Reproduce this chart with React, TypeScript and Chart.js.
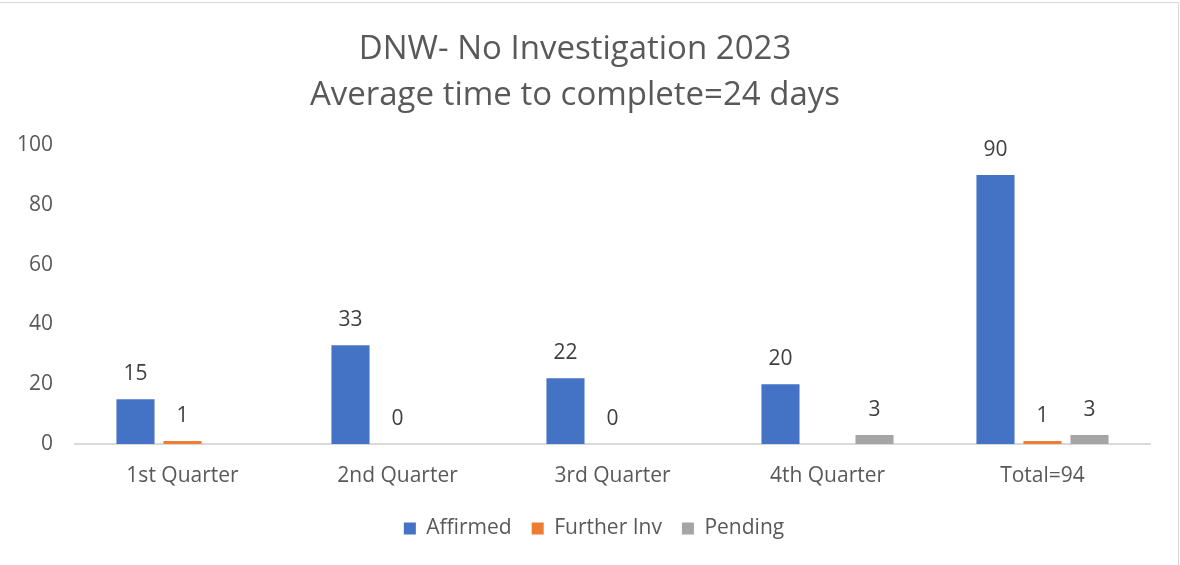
import React, { useEffect, useRef } from "react";
import { Chart, registerables } from "chart.js";

Chart.register(...registerables);

const categories = ["1st Quarter", "2nd Quarter", "3rd Quarter", "4th Quarter", "Total=94"];
const affirmed = [15, 33, 22, 20, 90];
const furtherInv = [1, 0, 0, null, 1];
const pending = [null, null, null, 3, 3];
const titleLines = ["DNW- No Investigation 2023", "Average time to complete=24 days"];

const FONT = "'Open Sans', 'Noto Sans', sans-serif";
const TEXT = "#595959";

const valueLabels = {
  id: "valueLabels",
  afterDatasetsDraw(chart: any) {
    const ctx = chart.ctx;
    ctx.save();
    ctx.font = `21px ${FONT}`;
    ctx.fillStyle = "#404040";
    ctx.textAlign = "center";
    ctx.textBaseline = "middle";
    chart.data.datasets.forEach((ds: any, i: number) => {
      const meta = chart.getDatasetMeta(i);
      meta.data.forEach((el: any, j: number) => {
        const v = ds.data[j];
        if (v === null || v === undefined) return;
        ctx.fillText(String(v), el.x, el.y - 25);
      });
    });
    ctx.restore();
  },
};

const legendShift = {
  id: "legendShift",
  afterLayout(chart: any) {
    if (chart.legend) {
      chart.legend.left += 19;
      chart.legend.right += 19;
    }
  },
};

export default function App() {
  const ref = useRef<HTMLCanvasElement>(null);
  useEffect(() => {
    if (!ref.current) return;
    const chart = new Chart(ref.current, {
      type: "bar",
      data: {
        labels: categories,
        datasets: [
          { label: "Affirmed", data: affirmed, backgroundColor: "#4472C4" },
          { label: "Further Inv", data: furtherInv, backgroundColor: "#ED7D31" },
          { label: "Pending", data: pending, backgroundColor: "#A5A5A5" },
        ],
      },
      options: {
        animation: false,
        responsive: false,
        maintainAspectRatio: false,
        layout: { padding: { left: 0, right: 30, top: 0, bottom: 16 } },
        datasets: {
          bar: { categoryPercentage: 0.656, barPercentage: 0.81, skipNull: false },
        },
        plugins: {
          title: {
            display: true,
            text: titleLines,
            color: TEXT,
            font: { family: FONT, size: 33, weight: "normal", lineHeight: 1.394 },
            padding: { top: 27, bottom: 26 },
          },
          legend: {
            position: "bottom",
            labels: {
              color: TEXT,
              font: { family: FONT, size: 21 },
              boxWidth: 12,
              boxHeight: 12,
              padding: 20,
            },
          },
          tooltip: { enabled: false },
        },
        scales: {
          x: {
            grid: { display: false, drawTicks: false },
            border: { display: true, color: "#D9D9D9", width: 2 },
            ticks: { color: TEXT, font: { family: FONT, size: 21 }, padding: 19 },
            afterFit(scale: any) {
              scale.height = 54;
            },
          },
          y: {
            min: 0,
            max: 100,
            grid: { display: false, drawTicks: false },
            border: { display: false },
            ticks: { stepSize: 20, color: TEXT, font: { family: FONT, size: 21 }, padding: 22 },
            afterFit(scale: any) {
              scale.width = 75;
            },
          },
        },
      },
      plugins: [valueLabels, legendShift],
    });
    return () => chart.destroy();
  }, []);
  return (
    <div style={{ position: "fixed", left: 0, top: 0, width: 1180, height: 565, background: "#fff" }}>
      <div
        style={{
          position: "absolute",
          left: 0,
          top: 2,
          width: 1178,
          height: 563,
          borderTop: "1px solid #D9D9D9",
          borderRight: "1px solid #D9D9D9",
        }}
      />
      <canvas ref={ref} width={1180} height={565} style={{ position: "absolute", left: 0, top: 0 }} />
    </div>
  );
}
